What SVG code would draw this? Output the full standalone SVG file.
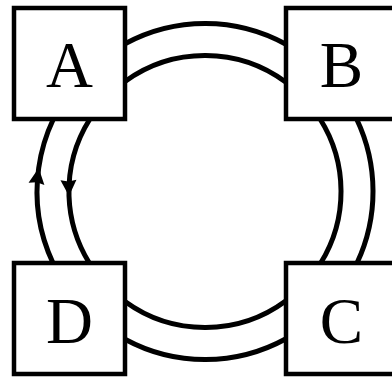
<svg xmlns="http://www.w3.org/2000/svg" width="392" height="378" viewBox="0 0 392 378">
<style>
.box{fill:#fff;stroke:#000;stroke-width:4.5}
.lbl{font-family:"Liberation Serif","Times New Roman",serif;font-size:65px;fill:#000;text-anchor:middle}
.arc{fill:none;stroke:#000;stroke-width:5}
</style>
<defs>
<marker id="ah" markerUnits="userSpaceOnUse" markerWidth="17" markerHeight="16" refX="16" refY="8" orient="auto" overflow="visible">
<path d="M0,0 L16,8 L0,16 L1.5,8 z" fill="#000"/>
</marker>
</defs>
<g id="connectors">
<path class="arc" d="M125,43.8 A168,168 0 0 1 286,44.3"/>
<path class="arc" d="M125,81.5 A136,136 0 0 1 286,82.3"/>
<path class="arc" d="M356.6,119 A168,168 0 0 1 357,263"/>
<path class="arc" d="M320.1,119 A136,136 0 0 1 320.7,263"/>
<path class="arc" d="M286,338.7 A168,168 0 0 1 125,339.2"/>
<path class="arc" d="M286,300.7 A136,136 0 0 1 125,301.5"/>
<path class="arc" marker-mid="url(#ah)" d="M53,263 A168,168 0 0 1 38.7,168 A168,168 0 0 1 53.4,119"/>
<path class="arc" marker-mid="url(#ah)" d="M89.9,119 A136,136 0 0 0 69,196 A136,136 0 0 0 89.3,263"/>
</g>
<g id="A"><rect class="box" x="14" y="8" width="111" height="111"/><text class="lbl" x="69.5" y="87">A</text></g>
<g id="B"><rect class="box" x="286" y="8" width="111" height="111"/><text class="lbl" x="341.5" y="87">B</text></g>
<g id="C"><rect class="box" x="286" y="263" width="111" height="111"/><text class="lbl" x="341.5" y="343">C</text></g>
<g id="D"><rect class="box" x="14" y="263" width="111" height="111"/><text class="lbl" x="69.5" y="343">D</text></g>
</svg>
